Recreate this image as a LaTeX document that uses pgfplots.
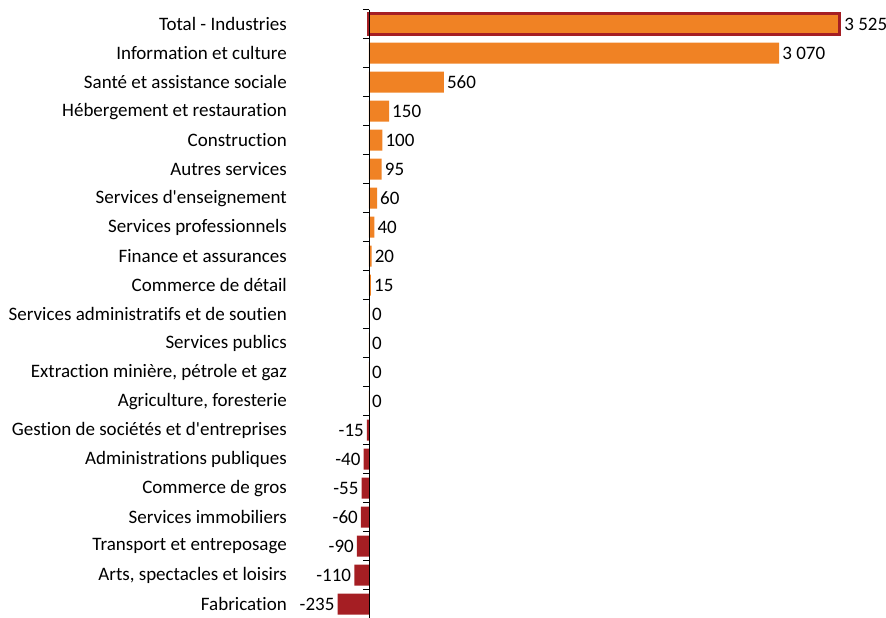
\documentclass[border=0pt]{standalone}
\usepackage{pgfplots}
\pgfplotsset{compat=1.18}
\usepackage{fontspec}
\setmainfont{Carlito}[Ligatures=NoCommon]
\definecolor{barorange}{RGB}{240,130,36}
\definecolor{bardark}{RGB}{165,30,35}
\begin{document}
\begin{tikzpicture}
\begin{axis}[
 scale only axis, width=886pt, height=618pt,
 xmin=-2762, xmax=3870, ymin=-0.83, ymax=20.48, y dir=reverse,
 xbar, bar width=0.72, bar shift=0pt,
 axis line style={draw=none}, xtick=\empty, ytick={0,...,20}, major tick length=0pt,
 yticklabels={Total - Industries, Information et culture, Santé et assistance sociale, Hébergement et restauration, Construction, Autres services, Services d\textquotesingle enseignement, Services professionnels, Finance et assurances, Commerce de détail, Services administratifs et de soutien, Services publics, {Extraction minière, pétrole et gaz}, {Agriculture, foresterie}, Gestion de sociétés et d\textquotesingle entreprises, Administrations publiques, Commerce de gros, Services immobiliers, Transport et entreposage, {Arts, spectacles et loisirs}, Fabrication},
 yticklabel style={font=\fontsize{19}{22}\selectfont, inner xsep=4pt, xshift=291pt},
 nodes near coords, nodes near coords align=horizontal,
 every node near coord/.append style={font=\fontsize{19}{22}\selectfont, text=black, inner xsep=3pt},
 /pgf/number format/1000 sep={\ }, /pgf/number format/assume math mode=true,
 clip=false,
]
\addplot[fill=barorange, draw=bardark, line width=3pt] coordinates {(3525,0)};
\addplot[fill=barorange, draw=none] coordinates {(3070,1) (560,2) (150,3) (100,4) (95,5) (60,6) (40,7) (20,8) (15,9) (0,10) (0,11) (0,12) (0,13)};
\addplot[fill=bardark, draw=none] coordinates {(-15,14) (-40,15) (-55,16) (-60,17) (-90,18) (-110,19) (-235,20)};
\draw[black, line width=0.9pt] (axis cs:0,-0.5) -- (axis cs:0,20.5);
\pgfplotsinvokeforeach{-0.5,0.5,...,20.5}{
  \draw[black, line width=0.7pt] ([xshift=-6pt]axis cs:0,#1) -- (axis cs:0,#1);
}
\end{axis}
\pgfresetboundingbox
\path (0,0) rectangle (886pt,618pt);
\end{tikzpicture}
\end{document}
